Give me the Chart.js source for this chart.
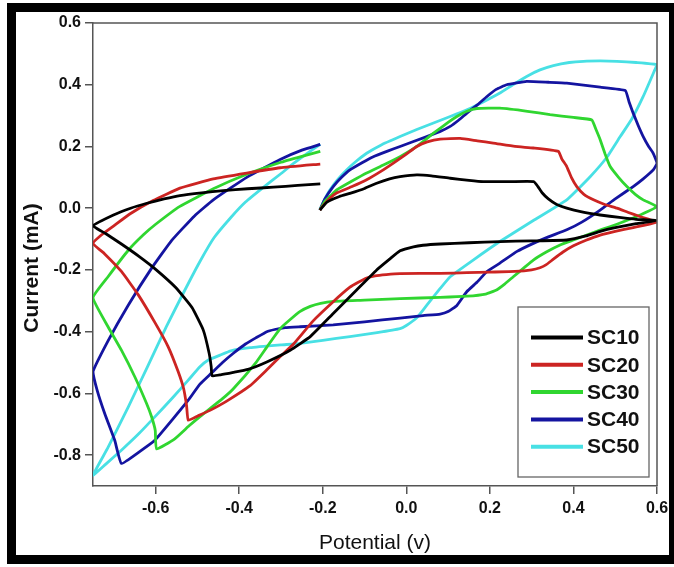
<!DOCTYPE html>
<html>
<head>
<meta charset="utf-8">
<script src="https://cdn.jsdelivr.net/npm/chart.js@4.4.1/dist/chart.umd.min.js"></script>
<style>
  html, body { margin: 0; padding: 0; background: #ffffff; }
  canvas { display: block; }
</style>
</head>
<body>
<canvas id="cv" width="674" height="567"></canvas>
<script>
// Cyclic voltammograms: potential (V) vs current (mA), one closed sweep per sample
const seriesNames = ['SC10', 'SC20', 'SC30', 'SC40', 'SC50'];
const seriesColors = ['#000000', '#cc2422', '#30d630', '#1414a0', '#48e0e4'];
const xTicks = [-0.6, -0.4, -0.2, 0.0, 0.2, 0.4, 0.6];
const yTicks = [-0.8, -0.6, -0.4, -0.2, 0.0, 0.2, 0.4, 0.6];

// [potential, current] in sweep order
const sc10 = [
  [-0.207,-0.006],[-0.19,0.02],[-0.16,0.038],[-0.135,0.048],[-0.1,0.064],[-0.071,0.081],[-0.04,0.095],
  [-0.015,0.102],[0.025,0.108],[0.06,0.105],[0.105,0.097],[0.15,0.09],[0.184,0.086],[0.25,0.086],[0.305,0.086],
  [0.315,0.07],[0.325,0.05],[0.34,0.03],[0.36,0.012],[0.384,0.0],[0.42,-0.012],[0.464,-0.022],[0.51,-0.03],
  [0.55,-0.036],[0.6,-0.04],
  [0.55,-0.05],[0.5,-0.063],[0.464,-0.075],[0.43,-0.09],[0.384,-0.103],[0.3,-0.106],[0.224,-0.108],
  [0.15,-0.112],[0.081,-0.116],[0.04,-0.12],[0.017,-0.125],[-0.015,-0.138],[-0.04,-0.165],[-0.071,-0.2],
  [-0.119,-0.265],[-0.175,-0.341],[-0.23,-0.416],[-0.278,-0.46],[-0.334,-0.498],[-0.379,-0.522],
  [-0.414,-0.532],[-0.445,-0.54],[-0.465,-0.543],
  [-0.467,-0.514],[-0.472,-0.47],[-0.486,-0.395],[-0.513,-0.322],[-0.552,-0.257],[-0.6,-0.198],
  [-0.64,-0.156],[-0.682,-0.116],[-0.72,-0.082],[-0.75,-0.057],
  [-0.701,-0.022],[-0.66,0.0],[-0.621,0.016],[-0.58,0.03],[-0.542,0.041],[-0.49,0.05],[-0.438,0.057],
  [-0.38,0.063],[-0.318,0.068],[-0.26,0.074],[-0.206,0.079]
];
const sc20 = [
  [-0.207,-0.006],[-0.199,0.008],[-0.185,0.03],[-0.167,0.049],[-0.13,0.07],[-0.095,0.092],[-0.06,0.12],
  [-0.031,0.146],[0.0,0.175],[0.025,0.2],[0.05,0.215],[0.081,0.224],[0.129,0.226],[0.17,0.218],
  [0.208,0.211],[0.26,0.2],[0.304,0.195],[0.364,0.184],
  [0.372,0.16],[0.384,0.135],[0.395,0.1],[0.408,0.07],[0.425,0.045],[0.448,0.027],[0.475,0.012],
  [0.504,0.0],[0.53,-0.013],[0.559,-0.027],[0.6,-0.045],
  [0.543,-0.063],[0.5,-0.075],[0.464,-0.087],[0.43,-0.104],[0.4,-0.122],[0.375,-0.142],[0.352,-0.165],
  [0.335,-0.183],[0.32,-0.193],[0.3,-0.2],[0.26,-0.205],[0.2,-0.207],[0.145,-0.209],[0.081,-0.211],
  [-0.015,-0.212],[-0.048,-0.215],[-0.075,-0.219],[-0.095,-0.226],[-0.115,-0.24],[-0.135,-0.256],
  [-0.175,-0.303],[-0.223,-0.365],[-0.27,-0.44],[-0.3,-0.478],[-0.335,-0.525],[-0.374,-0.575],
  [-0.43,-0.625],[-0.47,-0.655],[-0.499,-0.673],[-0.522,-0.687],
  [-0.526,-0.64],[-0.533,-0.585],[-0.546,-0.53],[-0.57,-0.449],[-0.602,-0.37],[-0.642,-0.28],
  [-0.682,-0.205],[-0.722,-0.148],[-0.75,-0.114],
  [-0.73,-0.087],[-0.701,-0.058],[-0.661,-0.018],[-0.606,0.025],[-0.542,0.065],[-0.462,0.095],
  [-0.382,0.114],[-0.302,0.131],[-0.206,0.143]
];
const sc30 = [
  [-0.207,-0.006],[-0.195,0.022],[-0.18,0.042],[-0.167,0.059],[-0.13,0.088],[-0.095,0.114],[-0.055,0.14],
  [-0.015,0.167],[0.025,0.2],[0.065,0.243],[0.1,0.278],[0.121,0.297],[0.145,0.314],[0.169,0.323],
  [0.224,0.324],[0.29,0.314],[0.344,0.303],[0.4,0.294],[0.444,0.286],
  [0.454,0.255],[0.464,0.222],[0.476,0.175],[0.488,0.135],[0.508,0.1],[0.528,0.07],[0.548,0.045],
  [0.567,0.027],[0.6,0.005],
  [0.55,-0.028],[0.504,-0.052],[0.47,-0.068],[0.432,-0.087],[0.4,-0.103],[0.368,-0.119],[0.335,-0.142],
  [0.304,-0.168],[0.28,-0.195],[0.256,-0.222],[0.236,-0.245],[0.216,-0.265],[0.19,-0.278],[0.145,-0.285],
  [0.081,-0.289],[-0.015,-0.293],[-0.1,-0.298],[-0.175,-0.302],[-0.205,-0.308],[-0.23,-0.318],
  [-0.255,-0.335],[-0.28,-0.363],[-0.302,-0.39],[-0.334,-0.45],[-0.36,-0.5],[-0.414,-0.585],
  [-0.44,-0.617],[-0.494,-0.675],[-0.52,-0.705],[-0.555,-0.748],[-0.598,-0.78],
  [-0.601,-0.72],[-0.61,-0.675],[-0.622,-0.632],[-0.65,-0.546],[-0.682,-0.46],[-0.714,-0.384],[-0.75,-0.29],
  [-0.714,-0.222],[-0.666,-0.137],[-0.63,-0.087],[-0.6,-0.052],[-0.542,0.006],[-0.462,0.063],
  [-0.382,0.11],[-0.302,0.148],[-0.25,0.168],[-0.206,0.184]
];
const sc40 = [
  [-0.207,-0.006],[-0.195,0.03],[-0.175,0.07],[-0.155,0.1],[-0.135,0.124],[-0.105,0.148],[-0.079,0.167],
  [-0.045,0.185],[-0.015,0.2],[0.049,0.232],[0.08,0.248],[0.105,0.265],[0.125,0.285],[0.145,0.308],
  [0.17,0.335],[0.193,0.362],[0.215,0.385],[0.24,0.4],[0.288,0.411],[0.34,0.408],[0.384,0.405],
  [0.464,0.392],[0.524,0.381],
  [0.533,0.345],[0.543,0.308],[0.555,0.268],[0.567,0.232],[0.58,0.2],[0.591,0.178],[0.6,0.146],
  [0.591,0.124],[0.567,0.095],[0.543,0.07],[0.5,0.03],[0.464,-0.006],[0.42,-0.045],[0.384,-0.07],
  [0.34,-0.093],[0.304,-0.114],[0.265,-0.14],[0.224,-0.178],[0.193,-0.205],[0.169,-0.24],[0.145,-0.27],
  [0.121,-0.315],[0.1,-0.335],[0.081,-0.343],[0.04,-0.348],[-0.015,-0.356],[-0.1,-0.368],[-0.175,-0.378],
  [-0.254,-0.384],[-0.29,-0.387],[-0.315,-0.393],[-0.334,-0.4],[-0.36,-0.42],[-0.385,-0.44],
  [-0.414,-0.47],[-0.44,-0.5],[-0.467,-0.535],[-0.494,-0.57],[-0.522,-0.622],[-0.56,-0.685],
  [-0.602,-0.752],[-0.64,-0.79],[-0.682,-0.827],
  [-0.698,-0.752],[-0.722,-0.665],[-0.74,-0.59],[-0.75,-0.53],
  [-0.714,-0.43],[-0.666,-0.315],[-0.61,-0.195],[-0.562,-0.105],[-0.507,-0.025],[-0.462,0.027],
  [-0.382,0.1],[-0.302,0.158],[-0.25,0.188],[-0.206,0.207]
];
const sc50 = [
  [-0.207,-0.006],[-0.195,0.03],[-0.183,0.059],[-0.165,0.092],[-0.143,0.124],[-0.12,0.152],[-0.095,0.178],
  [-0.06,0.205],[-0.015,0.232],[0.025,0.255],[0.065,0.276],[0.105,0.297],[0.145,0.319],[0.185,0.345],
  [0.224,0.373],[0.255,0.4],[0.288,0.427],[0.32,0.448],[0.352,0.462],[0.39,0.472],[0.424,0.476],
  [0.464,0.477],[0.504,0.476],[0.55,0.472],[0.6,0.465],
  [0.595,0.449],[0.567,0.362],[0.54,0.29],[0.512,0.232],[0.48,0.165],[0.44,0.102],[0.384,0.027],
  [0.304,-0.04],[0.224,-0.108],[0.16,-0.168],[0.105,-0.222],[0.081,-0.26],[0.06,-0.295],[0.04,-0.33],
  [0.025,-0.355],[0.0,-0.38],[-0.015,-0.39],[-0.07,-0.403],[-0.135,-0.416],[-0.2,-0.428],[-0.254,-0.438],
  [-0.3,-0.443],[-0.374,-0.452],[-0.42,-0.462],[-0.446,-0.476],[-0.474,-0.492],[-0.494,-0.514],
  [-0.522,-0.557],[-0.56,-0.615],[-0.602,-0.676],[-0.64,-0.73],[-0.682,-0.784],[-0.72,-0.83],[-0.75,-0.865],
  [-0.714,-0.775],[-0.666,-0.645],[-0.62,-0.515],[-0.575,-0.385],[-0.53,-0.265],[-0.495,-0.175],[-0.46,-0.095],
  [-0.42,-0.03],[-0.385,0.02],[-0.34,0.07],[-0.302,0.11],[-0.27,0.145],[-0.238,0.177],[-0.206,0.207]
];
const seriesData = [sc10, sc20, sc30, sc40, sc50];

const FONT = '"Liberation Sans", Arial, Helvetica, sans-serif';

// Box around the plot, legend, axis titles and the heavy outer border
const decorations = {
  id: 'decorations',
  afterDraw(chart) {
    const { ctx, chartArea: a } = chart;
    ctx.save();

    // top and right edges of the plot box
    ctx.strokeStyle = '#555555';
    ctx.lineWidth = 1.5;
    ctx.beginPath();
    ctx.moveTo(a.left, a.top);
    ctx.lineTo(a.right, a.top);
    ctx.lineTo(a.right, a.bottom);
    ctx.stroke();

    // legend box
    const lx = 518, ly = 307, lw = 131, lh = 170;
    ctx.fillStyle = '#ffffff';
    ctx.fillRect(lx, ly, lw, lh);
    ctx.strokeStyle = '#666666';
    ctx.lineWidth = 1.3;
    ctx.strokeRect(lx, ly, lw, lh);
    ctx.font = 'bold 21px ' + FONT;
    ctx.textBaseline = 'middle';
    ctx.textAlign = 'left';
    chart.data.datasets.forEach((ds, i) => {
      const y = 337.5 + i * 27.3;
      ctx.strokeStyle = ds.borderColor;
      ctx.lineWidth = 4;
      ctx.beginPath();
      ctx.moveTo(531, y);
      ctx.lineTo(583, y);
      ctx.stroke();
      ctx.fillStyle = '#111111';
      ctx.fillText(ds.label, 587, y + 1);
    });

    // axis titles
    ctx.fillStyle = '#111111';
    ctx.textAlign = 'center';
    ctx.textBaseline = 'middle';
    ctx.font = '21px ' + FONT;
    ctx.fillText('Potential (v)', (a.left + a.right) / 2, 543);
    ctx.save();
    ctx.translate(32, 268);
    ctx.rotate(-Math.PI / 2);
    ctx.font = 'bold 21px ' + FONT;
    ctx.fillText('Current (mA)', 0, 0);
    ctx.restore();

    // heavy outer border
    ctx.fillStyle = '#000000';
    ctx.fillRect(7, 3, 667, 9);
    ctx.fillRect(7, 555, 667, 9);
    ctx.fillRect(7, 3, 9, 561);
    ctx.fillRect(669, 3, 5, 561);
    ctx.restore();
  }
};

new Chart(document.getElementById('cv'), {
  type: 'scatter',
  data: {
    datasets: seriesData.map((pts, i) => ({
      label: seriesNames[i],
      data: pts.map(p => ({ x: p[0], y: p[1] })),
      showLine: true,
      borderColor: seriesColors[i],
      backgroundColor: seriesColors[i],
      borderWidth: 2.8,
      pointRadius: 0,
      tension: 0.12
    }))
  },
  options: {
    responsive: false,
    animation: false,
    devicePixelRatio: 1,
    layout: { padding: { left: 0, top: 23, right: 17, bottom: 0 } },
    plugins: { legend: { display: false }, tooltip: { enabled: false } },
    scales: {
      x: {
        type: 'linear',
        min: -0.75,
        max: 0.6,
        afterBuildTicks(scale) { scale.ticks = xTicks.map(v => ({ value: v })); },
        afterFit(scale) { scale.height = 81; },
        grid: { drawOnChartArea: false, drawTicks: true, tickLength: 8, color: '#555555', lineWidth: 1.5 },
        border: { display: true, color: '#555555', width: 1.5 },
        ticks: {
          padding: 5,
          color: '#111111',
          font: { family: FONT, size: 16, weight: 'bold' },
          maxRotation: 0,
          callback: v => Number(v).toFixed(1)
        }
      },
      y: {
        type: 'linear',
        min: -0.9,
        max: 0.6,
        afterBuildTicks(scale) { scale.ticks = yTicks.map(v => ({ value: v })); },
        afterFit(scale) { scale.width = 93; },
        grid: { drawOnChartArea: false, drawTicks: true, tickLength: 8, color: '#555555', lineWidth: 1.5 },
        border: { display: true, color: '#555555', width: 1.5 },
        ticks: {
          padding: 4,
          color: '#111111',
          font: { family: FONT, size: 16, weight: 'bold' },
          callback: v => Number(v).toFixed(1)
        }
      }
    }
  },
  plugins: [decorations]
});
</script>
</body>
</html>
